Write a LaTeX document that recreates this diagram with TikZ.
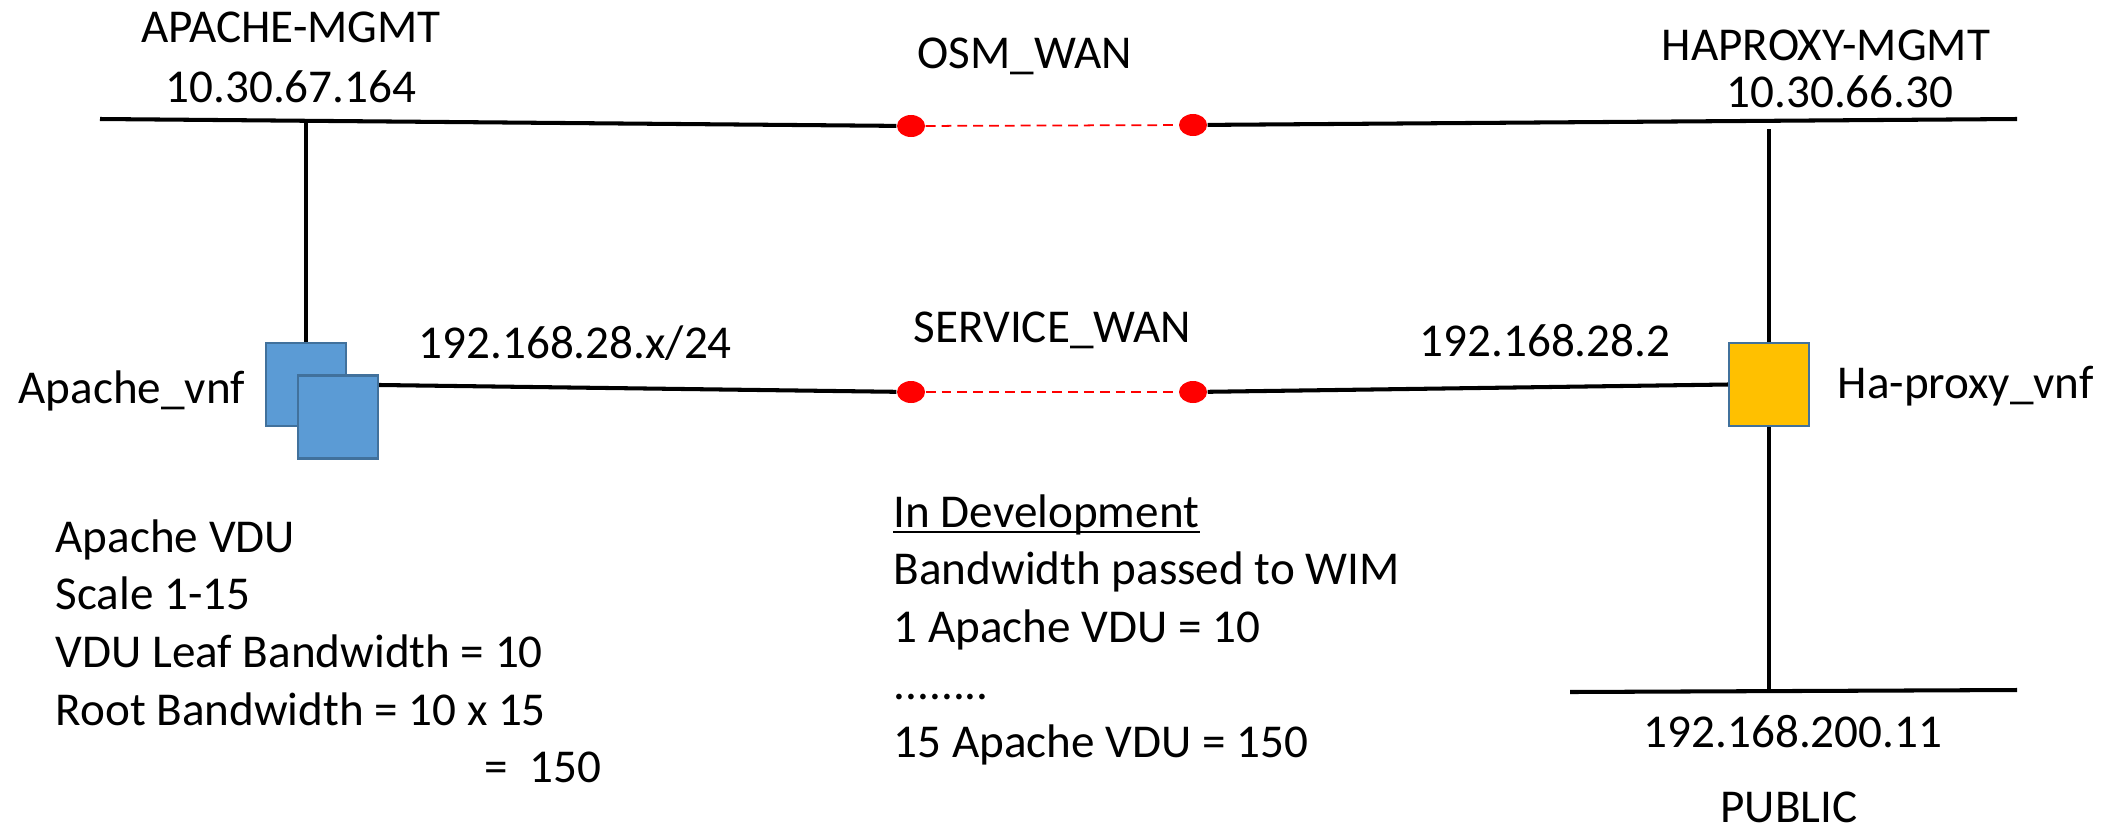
\documentclass[tikz,border=0pt]{standalone}
\usepackage{fontspec}
\setmainfont{Carlito}
\usetikzlibrary{shapes.geometric, positioning}
\definecolor{VnfBlue}{HTML}{5B9BD5}
\definecolor{VnfEdge}{HTML}{41719C}
\definecolor{VnfYellow}{HTML}{FFC000}
\newcommand{\wimdots}{........}

\begin{document}
\begin{tikzpicture}[x=0.01cm, y=-0.01cm,
    net/.style={line width=1.15pt},
    drop/.style={line width=1pt},
    wanlink/.style={red, line width=0.5pt, dash pattern=on 2.8pt off 1.7pt},
    wanend/.style={ellipse, fill=red, inner sep=0pt, minimum width=0.28cm, minimum height=0.22cm},
    vnfbox/.style={draw=VnfEdge, line width=0.6pt, inner sep=0pt, minimum width=0.8cm, minimum height=0.83cm},
    txt/.style={font=\fontsize{13.4}{16.3}\selectfont, inner sep=0pt}]
    \fill[white] (0,0) rectangle (2113,830);
    \useasboundingbox (0,0) rectangle (2113,830);

    % VNF boxes
    \node[vnfbox, fill=VnfBlue] (apache1) at (306,384.5) {};
    \node[vnfbox, fill=VnfBlue] (apache2) at (338,417) {};
    \node[vnfbox, fill=VnfYellow] (haproxy) at (1769,384.5) {};

    % WAN end points
    \node[wanend] (osmA) at (911,126) {};
    \node[wanend] (osmB) at (1193,125) {};
    \node[wanend] (svcA) at (911,392) {};
    \node[wanend] (svcB) at (1193,392) {};

    % free ends of the networks
    \coordinate (apacheMgmt) at (100,119);
    \coordinate (apacheJoin) at (306,120);
    \coordinate (haMgmt) at (2017,119);
    \coordinate (haTop) at (1769,129);
    \coordinate (pubL) at (1570,692);
    \coordinate (pubR) at (2017,690);
    \coordinate (pubJoin) at (1769,691);

    % networks
    \draw[net] (apacheMgmt) -- (osmA);
    \draw[net] (osmB) -- (haMgmt);
    \draw[net] ([yshift=0.32cm]apache2.east) -- (svcA);
    \draw[net] (svcB) -- (haproxy.west);
    \draw[net] (pubL) -- (pubR);
    \draw[wanlink] (osmA) -- (osmB);
    \draw[wanlink] (svcA) -- (svcB);
    \draw[drop] (apacheJoin) -- (apache1.north);
    \draw[drop] (haTop) -- (haproxy.north);
    \draw[drop] (haproxy.south) -- (pubJoin);

    % labels
    \node[txt, anchor=base] (apacheMgmtName) at (291,42) {APACHE-MGMT};
    \node[txt, anchor=base] (apacheMgmtIp) at (291,102) {10.30.67.164};
    \node[txt, anchor=base west] (osmName) at (917,68) {OSM\_WAN};
    \node[txt, anchor=base] (haMgmtName) at (1826,60) {HAPROXY-MGMT};
    \node[txt, anchor=base] (haMgmtIp) at (1840,107) {10.30.66.30};
    \node[txt, anchor=base west] (apacheName) at (18,403) {Apache\_vnf};
    \node[txt, anchor=base west] (apacheIp) at (418,358) {192.168.28.x/24};
    \node[txt, anchor=base west] (svcName) at (913,342) {SERVICE\_WAN};
    \node[txt, anchor=base west] (haIp) at (1419,356) {192.168.28.2};
    \node[txt, anchor=base west] (haName) at (1837,398) {Ha-proxy\_vnf};
    \node[txt, anchor=base] (pubIp) at (1793,747) {192.168.200.11};
    \node[txt, anchor=base] (pubName) at (1789,822) {PUBLIC};

    % notes
    \foreach \txt [count=\i from 0] in {Apache VDU, Scale 1-15, VDU Leaf Bandwidth = 10, Root Bandwidth = 10 x 15} {
        \node[txt, anchor=base west] (apacheNote\i) at (55,552+\i*57.7) {\txt};
    }
    \node[txt, anchor=base west] (apacheNoteSum) at (484,782) {=\ \ 150};
    \foreach \txt [count=\i from 0] in {In Development, Bandwidth passed to WIM, 1 Apache VDU = 10, \wimdots, 15 Apache VDU = 150} {
        \node[txt, anchor=base west] (wimNote\i) at (893,527+\i*57.5) {\txt};
    }
    \draw[line width=0.7pt] ([yshift=-0.05cm]wimNote0.base west) -- ([yshift=-0.05cm]wimNote0.base east);
\end{tikzpicture}
\end{document}
